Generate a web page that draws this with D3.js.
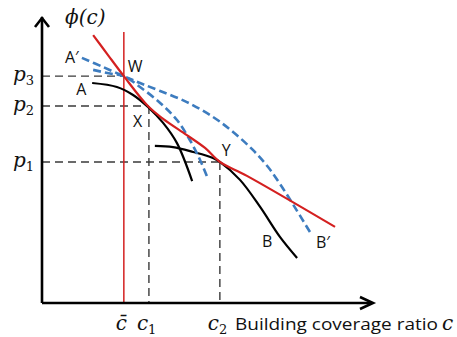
<!DOCTYPE html>
<html>
<head>
<meta charset="utf-8">
<script src="https://cdn.jsdelivr.net/npm/d3@7"></script>
<style>
  html, body { margin: 0; padding: 0; background: #fff; }
  svg { display: block; }
  .lbl { font-family: "Open Sans", "Liberation Sans", sans-serif; font-size: 16px; fill: #111; }
  .math { font-family: "DejaVu Serif", "Liberation Serif", serif; font-style: italic; fill: #111; }
</style>
</head>
<body>
<svg id="chart" width="457" height="337"></svg>
<script>
// Building coverage ratio c (horizontal) vs. land price phi(c) (vertical), both in arbitrary units 0..10
const cBar = 2.48, c1 = 3.24, c2 = 5.39;
const p1 = 4.95, p2 = 6.91, p3 = 7.96;

// Envelope of the bid-rent curves (red)
const envelope = [
  [1.55, 9.40], [2.00, 8.70], [2.48, 7.96], [3.21, 6.91], [3.67, 6.46],
  [4.39, 5.89], [4.94, 5.44], [5.39, 4.95], [6.21, 4.46], [8.88, 2.67]
];
// Curve A (black)
const curveA = [
  [1.52, 7.72], [2.27, 7.58], [2.76, 7.30], [3.21, 6.88], [3.67, 6.32],
  [4.09, 5.61], [4.55, 4.28]
];
// Curve B (black)
const curveB = [
  [3.42, 5.51], [3.97, 5.47], [4.58, 5.30], [5.18, 5.09], [5.39, 4.95],
  [6.00, 4.32], [6.61, 3.37], [7.21, 2.32], [7.73, 1.58]
];
// Shifted curve A'B' (blue dashed, outer)
const curveAB = [
  [1.21, 8.60], [1.85, 8.28], [2.48, 7.96], [2.97, 7.72], [3.58, 7.44],
  [4.39, 7.05], [5.18, 6.53], [5.79, 6.00], [6.39, 5.37], [6.85, 4.77],
  [7.21, 4.18], [7.64, 3.40], [8.12, 2.49]
];
// Shifted curve through W (blue dashed, inner)
const curveInner = [
  [1.55, 8.18], [2.06, 8.05], [2.48, 7.96], [2.97, 7.58], [3.58, 7.02],
  [4.09, 6.42], [4.48, 5.72], [4.79, 5.02], [5.03, 4.35]
];

const svg = d3.select("#chart");
const x = d3.scaleLinear().domain([0, 10]).range([42, 372]);
const y = d3.scaleLinear().domain([0, 10]).range([303, 18]);
const line = d3.line().x(d => x(d[0])).y(d => y(d[1])).curve(d3.curveCatmullRom.alpha(0.5));

const guide = "#3a3a3a";

// Guide lines for p1..p3 and c1, c2
[[p3, cBar], [p2, c1], [p1, c2]].forEach(([p, c]) => {
  svg.append("line").attr("x1", x(0)).attr("x2", x(c)).attr("y1", y(p)).attr("y2", y(p))
    .attr("stroke", guide).attr("stroke-width", 1.4).attr("stroke-dasharray", "8,5");
});
[[c1, p2], [c2, p1]].forEach(([c, p]) => {
  svg.append("line").attr("x1", x(c)).attr("x2", x(c)).attr("y1", y(p)).attr("y2", y(0))
    .attr("stroke", guide).attr("stroke-width", 1.4).attr("stroke-dasharray", "8,5");
});

// Regulation limit c-bar
svg.append("line").attr("x1", x(cBar)).attr("x2", x(cBar)).attr("y1", y(9.51)).attr("y2", y(0))
  .attr("stroke", "#d42020").attr("stroke-width", 1.5);

// Curves
svg.append("path").attr("d", line(curveA)).attr("fill", "none").attr("stroke", "#000").attr("stroke-width", 2.2);
svg.append("path").attr("d", line(curveB)).attr("fill", "none").attr("stroke", "#000").attr("stroke-width", 2.2);
svg.append("path").attr("d", line(curveAB)).attr("fill", "none").attr("stroke", "#3d7cbf")
  .attr("stroke-width", 2.6).attr("stroke-dasharray", "8,4");
svg.append("path").attr("d", line(curveInner)).attr("fill", "none").attr("stroke", "#3d7cbf")
  .attr("stroke-width", 2.6).attr("stroke-dasharray", "8,4");
svg.append("path").attr("d", line(envelope)).attr("fill", "none").attr("stroke", "#d42020").attr("stroke-width", 2.2);

// Axes with open arrowheads
svg.append("path").attr("d", `M${x(0)},${y(0)}V${y(10) - 1}M${x(10)},${y(0)}H${x(0)}`)
  .attr("fill", "none").attr("stroke", "#000").attr("stroke-width", 2.6);
svg.append("path").attr("d", `M${x(0) - 7},${y(10) + 9}L${x(0)},${y(10)}L${x(0) + 7},${y(10) + 9}`)
  .attr("fill", "none").attr("stroke", "#000").attr("stroke-width", 2.6);
svg.append("path").attr("d", `M${x(10) - 12},${y(0) - 6}L${x(10) + 1},${y(0)}L${x(10) - 12},${y(0) + 6}`)
  .attr("fill", "none").attr("stroke", "#000").attr("stroke-width", 2.6);

// Curve labels
const labels = [
  { t: "A\u2032", px: 1.21, py: 8.60, dx: -17, dy: 5 },
  { t: "W",       px: cBar, py: p3,  dx: 4,   dy: -4 },
  { t: "A",       px: 1.52, py: 7.72, dx: -16, dy: 12 },
  { t: "X",       px: c1,   py: p2,  dx: -16, dy: 21 },
  { t: "Y",       px: c2,   py: p1,  dx: 2,   dy: -6 },
  { t: "B",       px: 7.73, py: 1.58, dx: -35, dy: -11 },
  { t: "B\u2032", px: 8.12, py: 2.49, dx: 6,   dy: 16 }
];
labels.forEach(l => {
  svg.append("text").attr("class", "lbl").attr("x", x(l.px) + l.dx).attr("y", y(l.py) + l.dy).text(l.t);
});

// Axis title phi(c)
svg.append("text").attr("class", "math").attr("x", 65).attr("y", 24).attr("font-size", 20).text("\u03D5(c)");

// Price labels on the vertical axis
[[p3, "3"], [p2, "2"], [p1, "1"]].forEach(([p, s]) => {
  const t = svg.append("text").attr("class", "math").attr("x", 13).attr("y", y(p) + 5).attr("font-size", 20);
  t.append("tspan").text("p");
  t.append("tspan").attr("font-size", 13).attr("font-style", "normal").attr("dy", 4).text(s);
});

// Ratio labels on the horizontal axis
const bx = 330;
svg.append("text").attr("class", "math").attr("x", x(cBar) - 8).attr("y", bx).attr("font-size", 20).text("c\u0304");
[[c1, "1", -12], [c2, "2", -12]].forEach(([c, s, dx]) => {
  const t = svg.append("text").attr("class", "math").attr("x", x(c) + dx).attr("y", bx).attr("font-size", 20);
  t.append("tspan").text("c");
  t.append("tspan").attr("font-size", 13).attr("font-style", "normal").attr("dy", 4).text(s);
});
svg.append("text").attr("class", "lbl").attr("x", 235).attr("y", bx).attr("font-size", 17)
  .attr("textLength", 203).attr("lengthAdjust", "spacingAndGlyphs").text("Building coverage ratio");
svg.append("text").attr("class", "math").attr("x", 442).attr("y", bx).attr("font-size", 20).text("c");
</script>
</body>
</html>
